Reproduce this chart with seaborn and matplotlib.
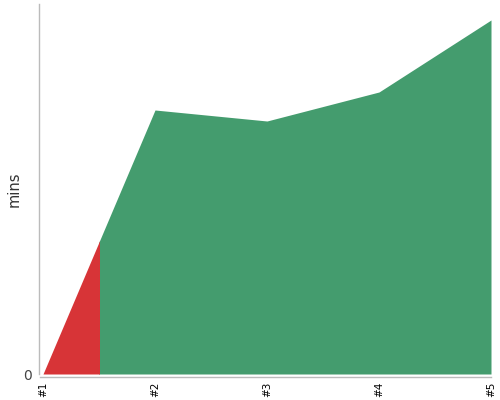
import numpy as np
import seaborn as sns
import matplotlib
matplotlib.use("Agg")
import matplotlib.pyplot as plt
from matplotlib.patches import Rectangle

# Data (y in minutes, scale estimated)
labels = ["#1", "#2", "#3", "#4", "#5"]
mins = [0.0, 26.4, 25.3, 28.2, 35.4]
split_at = 0.5  # red portion ends halfway between #1 and #2

sns.set_style("white")

fig = plt.figure(figsize=(5, 4), dpi=100)
ax = fig.add_axes([40 / 500, 26 / 400, 451 / 500, 370 / 400])

x = np.arange(len(labels))
sns.lineplot(x=x, y=mins, ax=ax, linewidth=0, color="#449c6e")

green = ax.fill_between(x, mins, color="#449c6e", linewidth=0)
red = ax.fill_between(x, mins, color="#d73437", linewidth=0)
green.set_clip_path(Rectangle((split_at, -10), 10, 100, transform=ax.transData))
red.set_clip_path(Rectangle((-1, -10), 1 + split_at, 100, transform=ax.transData))

ax.set_xlim(-3 / 112, len(labels) - 1)
ax.set_ylim(0, 37.0)
ax.set_xticks(x, labels)
ax.set_yticks([0], ["0"])
ax.set_ylabel("mins", fontsize=10.5, color="#333333", labelpad=1)
ax.set_xlabel("")

for side in ["top", "right"]:
    ax.spines[side].set_visible(False)
ax.spines["bottom"].set_position(("outward", 2.2))
ax.spines["left"].set_position(("outward", 0.7))
for side in ["bottom", "left"]:
    ax.spines[side].set_color("#bbbbbb")
    ax.spines[side].set_linewidth(1)
ax.tick_params(axis="x", length=2, color="#bbbbbb", pad=1.5, labelrotation=90,
               labelsize=7.5, labelcolor="black")
ax.tick_params(axis="y", length=2, color="#bbbbbb", pad=3,
               labelsize=10, labelcolor="#444444")

fig.savefig("out.png", dpi=100)
